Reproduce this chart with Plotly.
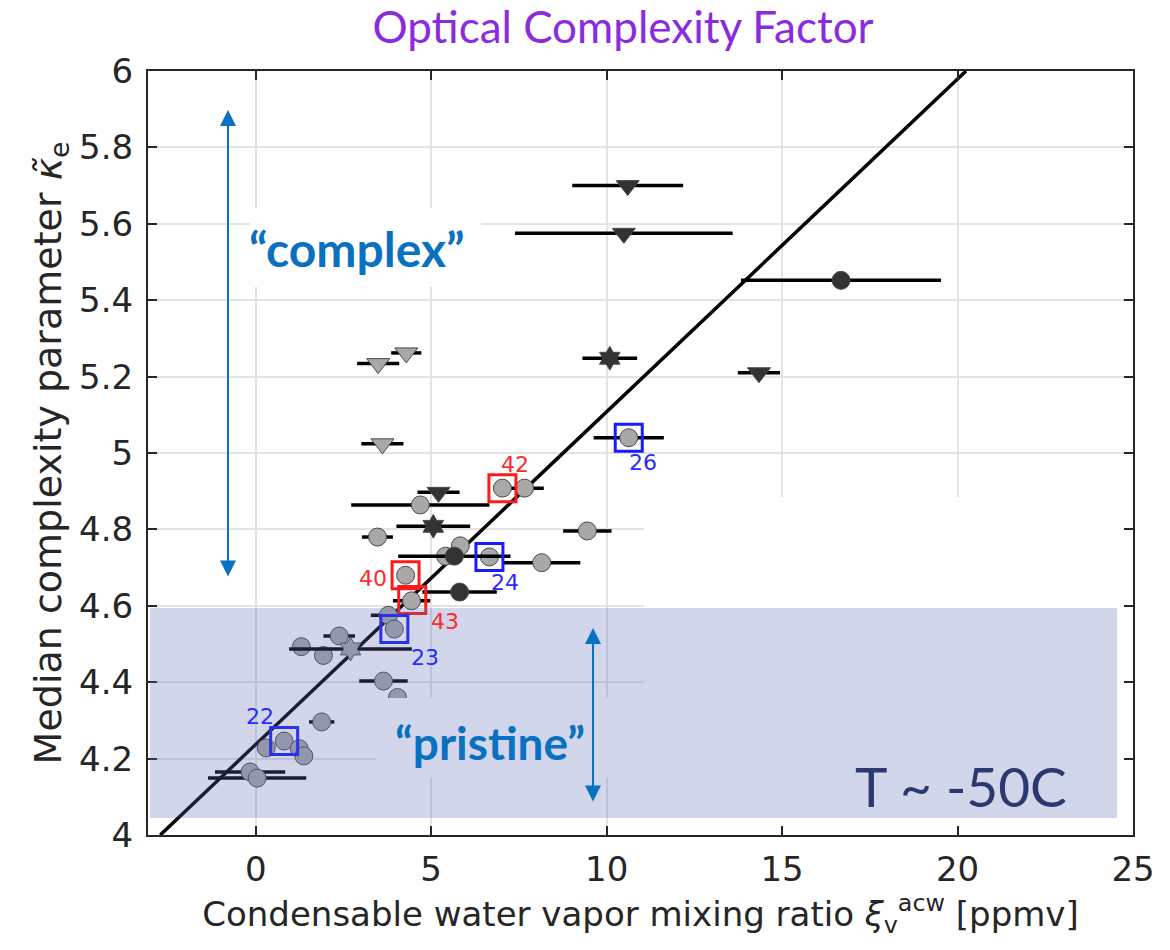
import plotly.graph_objects as go

# ---------------- data ----------------
# gray circles
gc_x   = [7.03, 7.66, 10.63, 4.69, 3.47, 9.45, 5.83, 5.41, 6.66, 8.15, 4.27, 4.44, 3.78, 3.95,
          1.30, 2.38, 1.93, 3.64, 4.04, 1.88, 0.81, 0.30, 1.24, 1.37, -0.16, 0.04]
gc_y   = [4.908, 4.908, 5.040, 4.864, 4.780, 4.796, 4.757, 4.730, 4.728, 4.713, 4.680, 4.613, 4.575, 4.539,
          4.493, 4.521, 4.470, 4.403, 4.360, 4.296, 4.246, 4.228, 4.226, 4.207, 4.165, 4.149]
gc_err = [0.0, 0.55, 1.0, 1.97, 0.44, 0.69, 0.0, 0.0, 0.0, 1.1, 0.0, 0.53, 0.5, 0.0,
          0.2, 0.45, 0.0, 0.69, 0.0, 0.36, 0.0, 0.0, 0.0, 0.0, 1.0, 1.4]
# gray down-triangles
gt_x   = [3.49, 4.29, 3.61]
gt_y   = [5.234, 5.262, 5.024]
gt_err = [0.6, 0.43, 0.6]
# gray star
gs_x   = [2.70]
gs_y   = [4.487]
gs_err = [1.75]
# dark down-triangles
dt_x   = [10.60, 10.49, 14.34, 5.21]
dt_y   = [5.700, 5.575, 5.210, 4.897]
dt_err = [1.58, 3.1, 0.6, 0.6]
# dark circles
dc_x   = [16.68, 5.66, 5.81]
dc_y   = [5.452, 4.730, 4.636]
dc_err = [2.85, 1.6, 1.06]
# dark stars
ds_x   = [10.09, 5.06]
ds_y   = [5.248, 4.808]
ds_err = [0.78, 1.05]
# highlighted cases
red_ids  = ["42", "40", "43"]
red_x    = [7.03, 4.27, 4.46]
red_y    = [4.908, 4.680, 4.615]
blue_ids = ["26", "24", "23", "22"]
blue_x   = [10.63, 6.66, 3.95, 0.81]
blue_y   = [5.040, 4.728, 4.539, 4.246]
# linear fit
FIT_SLOPE = 0.0871
FIT_INTERCEPT = 4.237

X_RANGE = [-3.07, 25.0]
Y_RANGE = [4.0, 6.0]
x_ticks = [0, 5, 10, 15, 20, 25]
y_ticks = [4, 4.2, 4.4, 4.6, 4.8, 5, 5.2, 5.4, 5.6, 5.8, 6]
y_ticktext = ["4", "4.2", "4.4", "4.6", "4.8", "5", "5.2", "5.4", "5.6", "5.8", "6"]

# ---------------- layout geometry ----------------
W, H = 1170, 950
L, R, T, B = 148, 37, 71, 115
PW, PH = W - L - R, H - T - B

def px2x(p):
    return X_RANGE[0] + (p - L) / PW * (X_RANGE[1] - X_RANGE[0])

def py2y(p):
    return Y_RANGE[1] - (p - T) / PH * (Y_RANGE[1] - Y_RANGE[0])

GRAY = "#a8a8a8"
DARK = "#333333"
EDGE = "#4a4a4a"

def err(arr):
    return dict(type="data", array=arr, symmetric=True, thickness=3.5, width=0, color="black")

fig = go.Figure()

# fit line, clipped to y range
fx0 = (Y_RANGE[0] - FIT_INTERCEPT) / FIT_SLOPE
fx1 = (Y_RANGE[1] - FIT_INTERCEPT) / FIT_SLOPE
fig.add_trace(go.Scatter(x=[fx0, fx1], y=[FIT_SLOPE * fx0 + FIT_INTERCEPT, FIT_SLOPE * fx1 + FIT_INTERCEPT],
                         mode="lines", line=dict(color="black", width=3.5), hoverinfo="skip"))

def pts(x, y, e, symbol, color, size):
    fig.add_trace(go.Scatter(x=x, y=y, mode="markers", error_x=err(e),
                             marker=dict(symbol=symbol, color=color, size=size,
                                         line=dict(color=EDGE, width=1))))

pts(gc_x, gc_y, gc_err, "circle", GRAY, 18)
pts(gt_x, gt_y, gt_err, "triangle-down", GRAY, 20)
pts(gs_x, gs_y, gs_err, "hexagram", GRAY, 18)
pts(dc_x, dc_y, dc_err, "circle", DARK, 18)
pts(dt_x, dt_y, dt_err, "triangle-down", DARK, 20)
pts(ds_x, ds_y, ds_err, "hexagram", DARK, 18)

fig.add_trace(go.Scatter(x=red_x, y=red_y, mode="markers",
                         marker=dict(symbol="square-open", size=27, color="#ff1a1a", line=dict(width=3))))
fig.add_trace(go.Scatter(x=blue_x, y=blue_y, mode="markers",
                         marker=dict(symbol="square-open", size=27, color="#1a1aff", line=dict(width=3))))

annotations = []
label_offsets = {"42": (13, 24), "40": (-33, -3), "43": (33, -21),
                 "26": (14, -25), "24": (16, -26), "23": (31, -28), "22": (-24, 25)}
for ids, xs, ys, col in [(red_ids, red_x, red_y, "#ff2a2a"), (blue_ids, blue_x, blue_y, "#2a2aff")]:
    for i, xv, yv in zip(ids, xs, ys):
        dx, dy = label_offsets[i]
        annotations.append(dict(x=xv, y=yv, xref="x", yref="y", text=i, showarrow=False,
                                xshift=dx, yshift=dy,
                                font=dict(family="DejaVu Sans", size=22, color=col)))

BLUE_TXT = "#0a70c0"
# arrows
for (xa, y0, y1) in [(px2x(228), py2y(110), py2y(578)), (px2x(593), py2y(628), py2y(803))]:
    annotations.append(dict(x=xa, y=y0, ax=xa, ay=y1, xref="x", yref="y", axref="x", ayref="y",
                            text="", showarrow=True, arrowhead=2, arrowside="end+start",
                            arrowsize=1.6, arrowwidth=2, arrowcolor=BLUE_TXT))
annotations.append(dict(x=px2x(357), y=py2y(248), xref="x", yref="y", text="<b>“complex”</b>",
                        showarrow=False, font=dict(family="Lato", size=48, color=BLUE_TXT)))
annotations.append(dict(x=px2x(490), y=py2y(742), xref="x", yref="y", text="<b>“pristine”</b>",
                        showarrow=False, font=dict(family="Lato", size=46, color=BLUE_TXT)))
annotations.append(dict(x=px2x(961), y=py2y(786), xref="x", yref="y", text="T ~ -50C",
                        showarrow=False, font=dict(family="Lato", size=55, color="#2c3970")))

shapes = [
    # white background behind "complex"
    dict(type="rect", xref="x", yref="y", x0=px2x(250), x1=px2x(481), y0=py2y(287), y1=py2y(208),
         fillcolor="white", line=dict(width=0), layer="between"),
    # white pasted area on the right
    dict(type="rect", xref="x", yref="y", x0=px2x(644), x1=X_RANGE[1], y0=Y_RANGE[0], y1=py2y(497),
         fillcolor="white", line=dict(width=0), layer="between"),
    # box behind "pristine"
    dict(type="rect", xref="x", yref="y", x0=px2x(376), x1=px2x(644), y0=py2y(778), y1=py2y(698),
         fillcolor="white", line=dict(width=0), layer="above"),
    # translucent shading
    dict(type="rect", xref="x", yref="y", x0=px2x(150), x1=px2x(1117), y0=py2y(818), y1=py2y(608),
         fillcolor="rgba(89,107,178,0.28)", line=dict(width=0), layer="above"),
]

axis_common = dict(showline=True, linecolor="#262626", linewidth=2, mirror="ticks",
                   ticks="inside", ticklen=9, tickwidth=1.5, tickcolor="#262626",
                   showgrid=True, gridcolor="#e3e3e3", gridwidth=1.5, zeroline=False,
                   tickfont=dict(family="DejaVu Sans", size=34, color="#262626"))

fig.update_layout(
    width=W, height=H, margin=dict(l=L, r=R, t=T, b=B, autoexpand=False),
    paper_bgcolor="white", plot_bgcolor="white", showlegend=False,
    title=dict(text="Optical Complexity Factor", x=623 / W, xref="container", xanchor="center",
               y=1 - 28 / H, yref="container", yanchor="middle",
               font=dict(family="Lato", size=44, color="#8a2be2")),
    xaxis=dict(range=X_RANGE, tickvals=x_ticks, ticklabelstandoff=3,
               title=dict(text="Condensable water vapor mixing ratio <i>ξ</i><sub>v</sub><sup>acw</sup> [ppmv]",
                          font=dict(family="DejaVu Sans", size=34, color="#262626"), standoff=14),
               **axis_common),
    yaxis=dict(range=Y_RANGE, tickvals=y_ticks, ticktext=y_ticktext, ticklabelstandoff=6,
               title=dict(text="Median complexity parameter <i>κ̃</i><sub>e</sub>",
                          font=dict(family="DejaVu Sans", size=38, color="#262626"), standoff=6),
               **axis_common),
    shapes=shapes, annotations=annotations,
)

fig.write_html("out.html")
